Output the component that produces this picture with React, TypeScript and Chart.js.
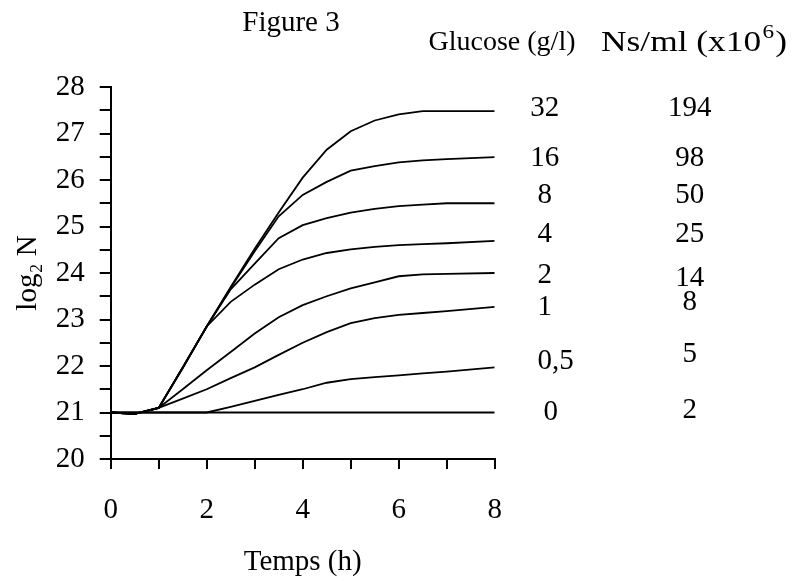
import React, { useEffect, useRef } from "react";
import { Chart, registerables } from "chart.js";

Chart.register(...registerables);

// Time points (h)
const times = [0, 0.5, 1, 1.5, 2, 2.5, 3, 3.5, 4, 4.5, 5, 5.5, 6, 6.5, 7, 8];

// log2 N for each glucose concentration
const g0 = [21, 21, 21, 21, 21, 21, 21, 21, 21, 21, 21, 21, 21, 21, 21, 21];
const g05 = [21, 21, 21, 21, 21, 21.12, 21.25, 21.38, 21.5, 21.64, 21.72, 21.76, 21.8, 21.84, 21.88, 21.97];
const g1 = [21, 20.97, 21.1, 21.3, 21.5, 21.74, 21.97, 22.24, 22.5, 22.73, 22.92, 23.03, 23.1, 23.14, 23.18, 23.27];
const g2 = [21, 20.97, 21.1, 21.5, 21.91, 22.3, 22.7, 23.05, 23.31, 23.5, 23.67, 23.8, 23.93, 23.97, 23.98, 24.0];
const g4 = [21, 20.97, 21.1, 21.95, 22.85, 23.38, 23.75, 24.08, 24.29, 24.43, 24.51, 24.56, 24.6, 24.62, 24.64, 24.69];
const g8 = [21, 20.97, 21.1, 21.96, 22.85, 23.65, 24.2, 24.75, 25.03, 25.18, 25.3, 25.38, 25.44, 25.47, 25.5, 25.5];
const g16 = [21, 20.97, 21.1, 21.97, 22.85, 23.68, 24.47, 25.22, 25.68, 25.96, 26.2, 26.3, 26.38, 26.42, 26.45, 26.49];
const g32 = [21, 20.97, 21.1, 21.97, 22.85, 23.7, 24.52, 25.3, 26.05, 26.65, 27.05, 27.28, 27.41, 27.48, 27.48, 27.48];

const seriesList = [g0, g05, g1, g2, g4, g8, g16, g32];

// Right-hand annotation columns
const glucoseLabels = ["32", "16", "8", "4", "2", "1", "0,5", "0"];
const nsLabels = ["194", "98", "50", "25", "14", "8", "5", "2"];
// vertical anchor of each row, in log2 N units
const glucoseLabelAt = [27.55, 26.47, 25.66, 24.84, 23.95, 23.26, 22.09, 21.0];
const nsLabelAt = [27.55, 26.47, 25.66, 24.84, 23.88, 23.36, 22.24, 21.04];

const FONT = '"Liberation Serif", "Times New Roman", serif';

const annotations = {
  id: "annotations",
  afterDraw(chart: any) {
    const { ctx, scales, chartArea } = chart;
    const y = scales.y;
    ctx.save();
    ctx.fillStyle = "#000";
    ctx.font = `29px ${FONT}`;
    ctx.textAlign = "center";
    ctx.textBaseline = "middle";
    glucoseLabels.forEach((lab, i) => {
      const off = lab === "0,5" ? 61 : lab === "0" ? 56 : 50;
      ctx.fillText(lab, chartArea.right + off, y.getPixelForValue(glucoseLabelAt[i]));
    });
    nsLabels.forEach((lab, i) => {
      ctx.fillText(lab, chartArea.right + 195, y.getPixelForValue(nsLabelAt[i]));
    });
    // headers
    ctx.fillText("Figure 3", 291, 23);
    ctx.font = `28px ${FONT}`;
    ctx.fillText("Glucose (g/l)", 502, 43);
    ctx.textAlign = "left";
    ctx.save();
    ctx.translate(601, 0);
    ctx.scale(1.22, 1);
    ctx.font = `29px ${FONT}`;
    const t1 = "Ns/ml (x10";
    ctx.fillText(t1, 0, 43);
    let x = ctx.measureText(t1).width;
    ctx.font = `19px ${FONT}`;
    ctx.fillText("6", x + 1, 33);
    x += ctx.measureText("6").width + 2;
    ctx.font = `29px ${FONT}`;
    ctx.fillText(")", x, 43);
    ctx.restore();
    ctx.restore();
  },
};

export default function App() {
  const ref = useRef<HTMLCanvasElement>(null);
  useEffect(() => {
    if (!ref.current) return;
    const chart = new Chart(ref.current, {
      type: "line",
      data: {
        datasets: seriesList.map((s) => ({
          data: times.map((t, i) => ({ x: t, y: s[i] })),
          borderColor: "#000",
          borderWidth: 1.8,
          pointRadius: 0,
          tension: 0,
          fill: false,
        })),
      },
      options: {
        animation: false,
        responsive: false,
        layout: { padding: { left: 0, right: 300.3, top: 87, bottom: 0 } },
        plugins: { legend: { display: false }, tooltip: { enabled: false } },
        scales: {
          x: {
            type: "linear",
            min: 0,
            max: 8,
            afterFit: (axis: any) => {
              axis.height = 122;
            },
            ticks: {
              stepSize: 1,
              autoSkip: false,
              maxRotation: 0,
              padding: 24,
              color: "#000",
              font: { family: FONT, size: 29 },
              callback: (v: any) => (Number(v) % 2 === 0 ? String(v) : ""),
            },
            grid: { drawOnChartArea: false, drawTicks: true, tickLength: 10, color: "#000", lineWidth: 2 },
            border: { display: true, color: "#000", width: 2 },
            title: {
              display: true,
              text: "Temps (h)",
              color: "#000",
              font: { family: FONT, size: 29 },
              padding: { top: 0, bottom: 1 },
            },
          },
          y: {
            type: "linear",
            min: 20,
            max: 28,
            afterFit: (axis: any) => {
              axis.width = 110.7;
            },
            ticks: {
              stepSize: 0.5,
              autoSkip: false,
              padding: 15,
              color: "#000",
              font: { family: FONT, size: 29 },
              callback: (v: any) => (Number.isInteger(Number(v)) ? String(v) : ""),
            },
            grid: { drawOnChartArea: false, drawTicks: true, tickLength: 11, color: "#000", lineWidth: 2 },
            border: { display: true, color: "#000", width: 2 },
            title: {
              display: true,
              text: "log₂ N",
              color: "#000",
              font: { family: FONT, size: 29 },
              padding: { top: 11, bottom: 0 },
            },
          },
        },
      },
      plugins: [annotations],
    });
    return () => chart.destroy();
  }, []);
  return (
    <div style={{ position: "absolute", left: 0, top: 0, width: 795, height: 581 }}>
      <canvas ref={ref} width={795} height={581} />
    </div>
  );
}
